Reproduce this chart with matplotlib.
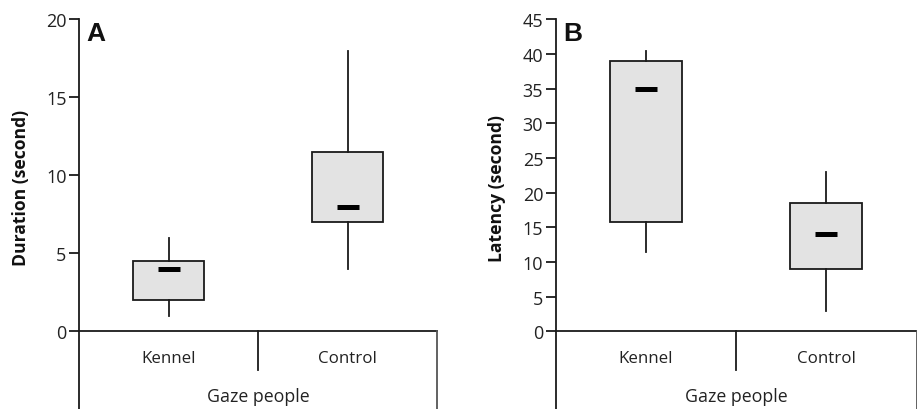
import matplotlib
matplotlib.use("Agg")
import matplotlib.pyplot as plt

categories = ["Kennel", "Control"]
group_label = "Gaze people"

# Panel A: Duration (second)
dur_whislo = [1.0, 4.0]
dur_q1 = [2.0, 7.0]
dur_med = [4.0, 8.0]
dur_q3 = [4.5, 11.5]
dur_whishi = [6.0, 18.0]
dur_ticks = [0, 5, 10, 15, 20]

# Panel B: Latency (second)
lat_whislo = [11.5, 3.0]
lat_q1 = [15.8, 9.0]
lat_med = [35.0, 14.0]
lat_q3 = [39.0, 18.5]
lat_whishi = [40.5, 23.0]
lat_ticks = [0, 5, 10, 15, 20, 25, 30, 35, 40, 45]

W, H = 917, 410
fig = plt.figure(figsize=(W / 100, H / 100), dpi=100)

FONT = "Open Sans"
EDGE = "#1a1a1a"


def panel(left_px, right_px, whislo, q1, med, q3, whishi, ticks, ylabel, letter, ylabel_x_px, letter_x_px):
    top_px = 20.3
    zero_px = 332.3
    ymax = ticks[-1]
    per_px = ymax / (zero_px - top_px)
    ymin = -(H - zero_px) * per_px
    ax = fig.add_axes([left_px / W, 0, (right_px - left_px) / W, (H - top_px) / H])
    ax.set_xlim(0, 2)
    ax.set_ylim(ymin, ymax)
    pos = [0.5, 1.5]
    stats = []
    for i in range(len(categories)):
        stats.append(dict(med=med[i], q1=q1[i], q3=q3[i], whislo=whislo[i], whishi=whishi[i], fliers=[]))
    ax.bxp(stats, positions=pos, widths=0.40, showcaps=False, showfliers=False,
           patch_artist=True,
           boxprops=dict(facecolor="#e3e3e3", edgecolor=EDGE, linewidth=1.3),
           whiskerprops=dict(color=EDGE, linewidth=1.3),
           medianprops=dict(linewidth=0))
    ax.plot(pos, med, linestyle="none", marker="_", markersize=15.5,
            markeredgewidth=3.6, color="black", zorder=5)
    for s in ["top", "right", "bottom"]:
        ax.spines[s].set_visible(False)
    ax.spines["left"].set_linewidth(1.3)
    ax.spines["left"].set_color(EDGE)
    ax.axhline(0, color=EDGE, linewidth=1.3, clip_on=False)
    div_units = 38.7 * per_px
    ax.plot([1, 1], [-div_units, 0], color=EDGE, linewidth=1.3, clip_on=False)
    ax.plot([2, 2], [ymin, 0], color="#555555", linewidth=1.3, clip_on=False)
    ax.set_xticks([])
    ax.set_yticks(ticks)
    ax.set_yticklabels([str(t) for t in ticks], fontsize=13, family=FONT, color="#222222")
    ax.tick_params(axis="y", direction="out", length=7, width=1.3, color=EDGE, pad=2)
    cat_y = -(359 - zero_px) * per_px
    for p, c in zip(pos, categories):
        ax.text(p, cat_y, c, ha="center", va="center", fontsize=12.2, family=FONT, color="#222222")
    ax.text(1, -(397.5 - zero_px) * per_px, group_label, ha="center", va="center",
            fontsize=12.8, family=FONT, color="#222222")
    ax.patch.set_visible(False)
    # ylabel
    fig.text(ylabel_x_px / W, 1 - 188 / H, ylabel, rotation=90, ha="center", va="center",
             fontsize=12.6, fontweight="bold", family=FONT, color="#111111")
    fig.text(letter_x_px / W, 1 - 34 / H, letter, ha="left", va="center",
             fontsize=19, fontweight="bold", family="Liberation Sans", color="#111111")
    return ax


panel(79, 437, dur_whislo, dur_q1, dur_med, dur_q3, dur_whishi, dur_ticks,
      "Duration (second)", "A", 21, 86.5)
panel(555.7, 916.5, lat_whislo, lat_q1, lat_med, lat_q3, lat_whishi, lat_ticks,
      "Latency (second)", "B", 497, 563.5)

fig.savefig("out.png", dpi=100)
